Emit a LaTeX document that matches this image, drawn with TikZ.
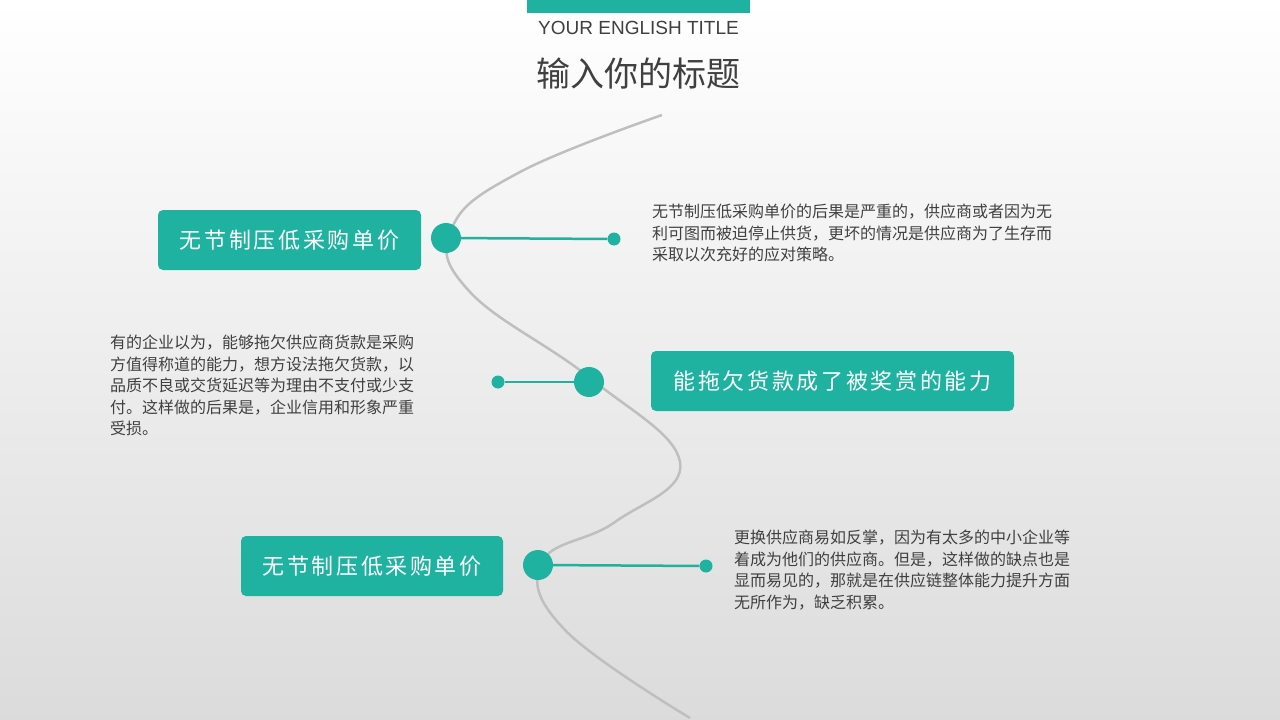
\documentclass[tikz,border=0pt]{standalone}
\usepackage{fontspec}
\setmainfont{Liberation Sans}
\newfontfamily\cjk{Noto Sans CJK SC}
\newfontfamily\cjkw[LetterSpace=12]{Noto Sans CJK SC}
\definecolor{teal1}{HTML}{20B2A0}
\definecolor{txt}{HTML}{404040}
\begin{document}
\begin{tikzpicture}[x=1pt,y=-1pt,
  tbox/.style={fill=teal1,rounded corners=5pt,text=white,font=\cjkw\fontsize{22}{26}\selectfont,inner sep=0pt},
  bigdot/.style={circle,fill=teal1,minimum size=30pt,inner sep=0pt},
  smalldot/.style={circle,fill=teal1,minimum size=13pt,inner sep=0pt},
  para/.style={anchor=north west,align=left,text=txt,font=\cjk\fontsize{16}{21.5}\selectfont,inner sep=0pt},
  conn/.style={teal1,line width=2.5pt}]
\shade[top color=white,bottom color=black!14] (0,0) rectangle (1280,720);
\useasboundingbox (0,0) rectangle (1280,720);
\fill[teal1] (527,0) rectangle (750,13);
\node[text=txt,font=\fontsize{19}{22}\selectfont] (et) at (638.5,28) {YOUR ENGLISH TITLE};
\node[text=txt,font=\cjk\fontsize{34}{40}\selectfont] (ct) at (638.5,74) {输入你的标题};
\draw[black!25,line width=2.5pt] plot[smooth,tension=0.7] coordinates {(662,115) (520,172) (452,228) (470,292) (590,378) (680,462) (615,522) (542,562) (565,630) (690,718)};
\node[tbox,minimum width=263pt,minimum height=60pt] (b1) at (289.5,240) {无节制压低采购单价};
\node[bigdot] (c1) at (446,238) {};
\node[smalldot] (d1) at (614,239) {};
\draw[conn] (c1) -- (d1);
\node[para] (p1) at (652,204) {无节制压低采购单价的后果是严重的，供应商或者因为无\\利可图而被迫停止供货，更坏的情况是供应商为了生存而\\采取以次充好的应对策略。};
\node[tbox,minimum width=363pt,minimum height=60pt] (b2) at (832.5,381) {能拖欠货款成了被奖赏的能力};
\node[bigdot] (c2) at (589,382) {};
\node[smalldot] (d2) at (498,382) {};
\draw[conn] (c2) -- (d2);
\node[para] (p2) at (110,335) {有的企业以为，能够拖欠供应商货款是采购\\方值得称道的能力，想方设法拖欠货款，以\\品质不良或交货延迟等为理由不支付或少支\\付。这样做的后果是，企业信用和形象严重\\受损。};
\node[tbox,minimum width=262pt,minimum height=60pt] (b3) at (372,566) {无节制压低采购单价};
\node[bigdot] (c3) at (538,565) {};
\node[smalldot] (d3) at (706,566) {};
\draw[conn] (c3) -- (d3);
\node[para] (p3) at (734,530) {更换供应商易如反掌，因为有太多的中小企业等\\着成为他们的供应商。但是，这样做的缺点也是\\显而易见的，那就是在供应链整体能力提升方面\\无所作为，缺乏积累。};
\end{tikzpicture}
\end{document}
